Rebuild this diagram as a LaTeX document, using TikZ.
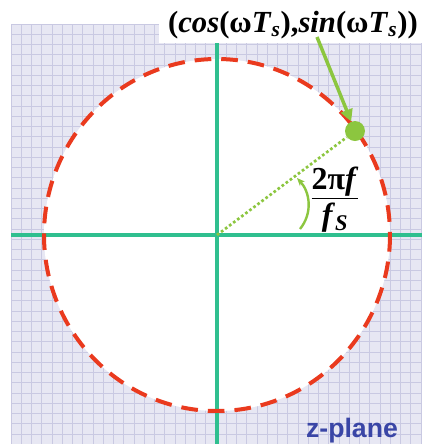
\documentclass[tikz,border=0pt]{standalone}
\usepackage{fontspec}
\setmainfont{Liberation Serif}
\newfontfamily\planefont{Liberation Sans}
\usepackage{xcolor}
\usetikzlibrary{arrows.meta,positioning,calc}

\definecolor{gridbg}{HTML}{E7E7F3}
\definecolor{gridline}{HTML}{C9C9E2}
\definecolor{axisgreen}{HTML}{2FBF8F}
\definecolor{unitred}{HTML}{EA3A1E}
\definecolor{ptgreen}{HTML}{8CC63F}
\definecolor{planeblue}{HTML}{3A46A6}

\begin{document}
\begin{tikzpicture}[
  x=0.75pt,y=-0.75pt,>=Latex,
  axis/.style={axisgreen,line width=2.6pt},
  unit/.style={unitred,line width=3pt,dash pattern=on 12.5pt off 7.5pt},
  radius/.style={ptgreen,line width=2pt,dash pattern=on 2pt off 1.8pt},
  ptr/.style={-{Triangle[length=9pt,width=9pt]},ptgreen,line width=2.6pt},
  turn/.style={-{Stealth[length=6pt,width=5pt]},ptgreen,line width=1.8pt},
  dot/.style={circle,fill=ptgreen,minimum size=15pt,inner sep=0pt},
  big/.style={font=\fontsize{24}{29}\selectfont\bfseries}
]
  \useasboundingbox (0,0) rectangle (422,444);
  % grid paper
  \fill[gridbg] (11,24) rectangle (422,444);
  \foreach \i in {0,...,40} {
    \draw[gridline,line width=0.7pt] ({11+10.25*\i},24) -- ({11+10.25*\i},444);
    \draw[gridline,line width=0.7pt] (11,{24+10.25*\i}) -- (422,{24+10.25*\i});
  }
  \fill[white] (217,235) ellipse [x radius=173, y radius=176];
  \fill[white] (159,0) rectangle (422,43);

  % axes
  \coordinate (O) at (217,235);
  \coordinate (west) at (11,235);
  \coordinate (east) at (422,235);
  \coordinate (north) at (217,43);
  \coordinate (south) at (217,444);
  \draw[axis] (west) -- (east);
  \draw[axis] (north) -- (south);

  % unit circle
  \draw[unit] (O) ellipse [x radius=173, y radius=176];

  % point on the circle
  \node[dot] (pt) at (355,131) {};
  \draw[radius] (O) -- (pt);

  \node[font=\fontsize{23}{28}\selectfont\bfseries,anchor=base] (coords) at (293,32)
    {(\textit{cos}(ω\textit{T}\textsubscript{\textit{s}}),\textit{sin}(ω\textit{T}\textsubscript{\textit{s}}))};
  \coordinate (tail) at (317,37);
  \draw[ptr] (tail) -- (pt);

  % angle
  \node[big,align=center,inner sep=0pt] (ratio) at (335,200)
    {\underline{2π\textit{f}}\\[-2pt] \textit{f}\textsubscript{\textit{S}}};
  \coordinate (foot) at (300,229);
  \coordinate (head) at (297,178);
  \draw[turn] (foot) .. controls (313,213) and (310,192) .. (head);

  \node[font=\planefont\fontsize{20}{24}\selectfont\bfseries,text=planeblue,anchor=base]
    (zplane) at (352,437) {z-plane};
\end{tikzpicture}
\end{document}
